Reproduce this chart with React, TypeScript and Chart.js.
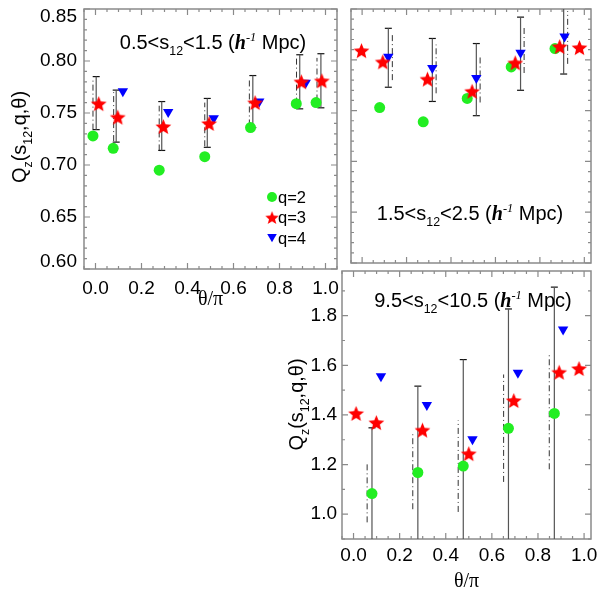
import { useEffect, useRef } from 'react';
import { Chart, registerables } from 'chart.js';
import type { Plugin } from 'chart.js';

Chart.register(...registerables);

const SANS = '"Liberation Sans", Arial, sans-serif';
const SERIF = '"Liberation Serif", "Times New Roman", serif';
Chart.defaults.font.family = SANS;
Chart.defaults.color = '#000';

// ---- values (x = theta/pi, y = Q_z) ----
// panel 1: 0.5 < s12 < 1.5
const p1Q2Theta = [-0.011, 0.077, 0.277, 0.475, 0.674, 0.873, 0.959];
const p1Q2 = [0.728, 0.716, 0.695, 0.708, 0.736, 0.759, 0.760];
const p1Q3Theta = [0.014, 0.097, 0.295, 0.494, 0.694, 0.895, 0.984];
const p1Q3 = [0.759, 0.746, 0.737, 0.740, 0.760, 0.780, 0.781];
const p1Q4Theta = [0.119, 0.316, 0.514, 0.712, 0.914];
const p1Q4 = [0.771, 0.751, 0.745, 0.761, 0.779];
const p1BarTheta = [0.003, 0.090, 0.288, 0.486, 0.684, 0.888, 0.980];
const p1BarLo = [0.734, 0.722, 0.714, 0.717, 0.736, 0.754, 0.755];
const p1BarHi = [0.785, 0.772, 0.761, 0.764, 0.786, 0.806, 0.807];
const p1DashTheta = [-0.011, 0.079, 0.277, 0.475, 0.669, 0.874, 0.963];
const p1DashLo = [0.734, 0.723, 0.714, 0.718, 0.738, 0.759, 0.762];
const p1DashHi = [0.784, 0.770, 0.757, 0.760, 0.782, 0.803, 0.803];

// panel 2: 1.5 < s12 < 2.5
const p2Q2Theta = [0.079, 0.275, 0.473, 0.671, 0.868];
const p2Q2 = [0.753, 0.739, 0.762, 0.793, 0.811];
const p2Q3Theta = [-0.003, 0.093, 0.294, 0.495, 0.689, 0.889, 0.978];
const p2Q3 = [0.809, 0.798, 0.781, 0.769, 0.797, 0.813, 0.812];
const p2Q4Theta = [0.118, 0.316, 0.514, 0.713, 0.911];
const p2Q4 = [0.803, 0.792, 0.782, 0.807, 0.823];
const p2BarTheta = [0.118, 0.316, 0.514, 0.713, 0.907];
const p2BarLo = [0.773, 0.759, 0.745, 0.770, 0.786];
const p2BarHi = [0.831, 0.821, 0.816, 0.842, 0.860];
const p2DashTheta = [0.136, 0.333, 0.531, 0.729, 0.925];
const p2DashLo = [0.780, 0.767, 0.758, 0.787, 0.796];
const p2DashHi = [0.827, 0.815, 0.804, 0.834, 0.848];

// panel 3: 9.5 < s12 < 10.5
const p3Q2Theta = [0.080, 0.279, 0.476, 0.672, 0.871];
const p3Q2 = [1.083, 1.168, 1.194, 1.346, 1.406];
const p3Q3Theta = [0.011, 0.099, 0.299, 0.500, 0.695, 0.892, 0.978];
const p3Q3 = [1.406, 1.369, 1.339, 1.244, 1.458, 1.572, 1.587];
const p3Q4Theta = [0.119, 0.318, 0.516, 0.713, 0.909];
const p3Q4 = [1.556, 1.440, 1.302, 1.570, 1.744];
const p3BarTheta = [0.080, 0.279, 0.476, 0.672, 0.871];
const p3BarLo = [0.82, 0.82, 0.77, 0.86, 0.85];
const p3BarHi = [1.348, 1.516, 1.623, 1.827, 1.915];
const p3DashTheta = [0.059, 0.257, 0.454, 0.651, 0.849];
const p3DashLo = [0.967, 1.020, 1.009, 1.130, 1.181];
const p3DashHi = [1.201, 1.322, 1.378, 1.563, 1.643];

// ---- ticks ----
const xTicks = [0, 0.2, 0.4, 0.6, 0.8, 1.0];
const yTicksTop = [0.6, 0.65, 0.7, 0.75, 0.8, 0.85];
const yTicksBottom = [1.0, 1.2, 1.4, 1.6, 1.8];
const legendLabels = ['q=2', 'q=3', 'q=4'];

const GREEN = '#22ee22';
const RED = '#ff0000';
const BLUE = '#0000ff';
const FRAME = '#8a8a8a';
const TICK_FS = 19;
const TITLE_FS = 20;

type Seg = { t: string; k?: 'sub' | 'sup' | 'h' };
type TextSpec = { segs: Seg[]; x: number; y: number; rot?: number };

const yTitle: Seg[] = [{ t: 'Q' }, { t: 'z', k: 'sub' }, { t: '(s' }, { t: '12', k: 'sub' }, { t: ',q,θ)' }];
const rangeTitle = (lo: string, hi: string): Seg[] => [
  { t: `${lo}<s` },
  { t: '12', k: 'sub' },
  { t: `<${hi} (` },
  { t: 'h', k: 'h' },
  { t: '-1', k: 'sup' },
  { t: ' Mpc)' },
];

function fontFor(k: Seg['k'], size: number) {
  if (k === 'sub') return `${size * 0.62}px ${SANS}`;
  if (k === 'sup') return `italic ${size * 0.62}px ${SERIF}`;
  if (k === 'h') return `bold italic ${size}px ${SERIF}`;
  return `${size}px ${SANS}`;
}

function drawRich(ctx: CanvasRenderingContext2D, spec: TextSpec, size: number) {
  ctx.save();
  ctx.translate(spec.x, spec.y);
  if (spec.rot) ctx.rotate(spec.rot);
  ctx.fillStyle = '#000';
  ctx.textAlign = 'left';
  ctx.textBaseline = 'alphabetic';
  const widths = spec.segs.map((s) => {
    ctx.font = fontFor(s.k, size);
    return ctx.measureText(s.t).width;
  });
  let x = -widths.reduce((a, b) => a + b, 0) / 2;
  const base = size * 0.35;
  spec.segs.forEach((s, i) => {
    ctx.font = fontFor(s.k, size);
    const dy = s.k === 'sub' ? size * 0.28 : s.k === 'sup' ? -size * 0.42 : 0;
    ctx.fillText(s.t, x, base + dy);
    x += widths[i];
  });
  ctx.restore();
}

function makeStar(outer: number) {
  const size = Math.ceil(outer * 2 + 2);
  const c = document.createElement('canvas');
  c.width = size;
  c.height = size;
  const g = c.getContext('2d')!;
  g.translate(size / 2, size / 2 + outer * 0.095);
  g.beginPath();
  for (let i = 0; i < 10; i++) {
    const r = i % 2 ? outer * 0.44 : outer;
    const a = -Math.PI / 2 + (i * Math.PI) / 5;
    g.lineTo(r * Math.cos(a), r * Math.sin(a));
  }
  g.closePath();
  g.fillStyle = RED;
  g.fill();
  return c;
}

const pts = (xs: number[], ys: number[]) => xs.map((x, i) => ({ x, y: ys[i] }));
const segs = (xs: number[], lo: number[], hi: number[]) =>
  xs.flatMap((x, i) => [{ x, y: lo[i] }, { x, y: hi[i] }, { x, y: null as any }]);
const ends = (xs: number[], lo: number[], hi: number[]) =>
  xs.flatMap((x, i) => [{ x, y: lo[i] }, { x, y: hi[i] }]);

function stepValues(min: number, max: number, step: number) {
  const out: number[] = [];
  for (let k = Math.ceil(min / step - 1e-6); k * step <= max + 1e-9; k++) out.push(k * step);
  return out;
}

interface PanelSpec {
  pos: { left: number; top: number; width: number; height: number };
  pad: { top: number; right: number; bottom: number };
  yAxisW: number;
  xAxisH: number;
  xRange: [number, number];
  yRange: [number, number];
  yTicks: number[];
  yDigits: number;
  yMajor: number;
  yMinor: number;
  labels: boolean;
  xLabelPad: number;
  yLabelPad: number;
  xTitlePad: number;
  q2: [number[], number[]];
  q3: [number[], number[]];
  q4: [number[], number[]];
  bar: [number[], number[], number[]];
  dash: [number[], number[], number[]];
  texts: TextSpec[];
  legend?: { x: number; y: number };
}

function Panel({ spec }: { spec: PanelSpec }) {
  const canvasRef = useRef<HTMLCanvasElement>(null);

  useEffect(() => {
    if (!canvasRef.current) return;
    const star = makeStar(8.3);
    const [xMin, xMax] = spec.xRange;
    const [yMin, yMax] = spec.yRange;

    const decor: Plugin<'line'> = {
      id: 'decor',
      beforeDatasetsDraw(chart) {
        const { ctx, chartArea: a } = chart;
        const xs = chart.scales.x;
        const ys = chart.scales.y;
        const isMajor = (v: number, step: number) => Math.abs(v / step - Math.round(v / step)) < 1e-6;
        ctx.save();
        ctx.strokeStyle = FRAME;
        ctx.lineWidth = 1.2;
        ctx.beginPath();
        for (const v of stepValues(xMin, xMax, 0.05)) {
          const len = isMajor(v, 0.2) ? 6 : 3;
          const px = xs.getPixelForValue(v);
          ctx.moveTo(px, a.bottom);
          ctx.lineTo(px, a.bottom - len);
          ctx.moveTo(px, a.top);
          ctx.lineTo(px, a.top + len);
        }
        for (const v of stepValues(yMin, yMax, spec.yMinor)) {
          const len = isMajor(v, spec.yMajor) ? 6 : 3;
          const py = ys.getPixelForValue(v);
          ctx.moveTo(a.left, py);
          ctx.lineTo(a.left + len, py);
          ctx.moveTo(a.right, py);
          ctx.lineTo(a.right - len, py);
        }
        ctx.stroke();
        ctx.lineWidth = 1.5;
        ctx.strokeRect(a.left, a.top, a.right - a.left, a.bottom - a.top);
        ctx.restore();
      },
      afterDatasetsDraw(chart) {
        const { ctx } = chart;
        spec.texts.forEach((t) => drawRich(ctx, t, TITLE_FS));
        if (spec.legend) {
          const { x, y } = spec.legend;
          const step = 20.5;
          ctx.save();
          ctx.fillStyle = GREEN;
          ctx.beginPath();
          ctx.arc(x, y, 5, 0, Math.PI * 2);
          ctx.fill();
          const s = star.width * 0.85;
          ctx.drawImage(star, x - s / 2, y + step - s / 2, s, s);
          const ty = y + 2 * step;
          const r = 5.5;
          ctx.fillStyle = BLUE;
          ctx.beginPath();
          ctx.moveTo(x, ty + r * 0.75);
          ctx.lineTo(x - r * 0.87, ty - r * 0.75);
          ctx.lineTo(x + r * 0.87, ty - r * 0.75);
          ctx.closePath();
          ctx.fill();
          ctx.fillStyle = '#000';
          ctx.font = `16.5px ${SANS}`;
          ctx.textBaseline = 'middle';
          ctx.textAlign = 'left';
          legendLabels.forEach((l, i) => ctx.fillText(l, x + 6, y + i * step + 1));
          ctx.restore();
        }
      },
    };

    const chart = new Chart(canvasRef.current, {
      type: 'line',
      data: {
        datasets: [
          {
            label: 'q=3',
            data: pts(...spec.q3),
            showLine: false,
            pointStyle: star,
            pointRadius: 8,
            order: 0,
          },
          {
            label: 'q=4',
            data: pts(...spec.q4),
            showLine: false,
            pointStyle: 'triangle',
            rotation: 180,
            pointRadius: 6,
            pointBackgroundColor: BLUE,
            pointBorderWidth: 0,
            order: 1,
          },
          {
            label: 'q=2',
            data: pts(...spec.q2),
            showLine: false,
            pointStyle: 'circle',
            pointRadius: 5.5,
            pointBackgroundColor: GREEN,
            pointBorderWidth: 0,
            order: 2,
          },
          {
            label: 'error',
            data: segs(...spec.bar),
            showLine: true,
            spanGaps: false,
            pointRadius: 0,
            borderColor: '#555',
            borderWidth: 1.2,
            order: 3,
          },
          {
            label: 'caps',
            data: ends(...spec.bar),
            showLine: false,
            pointStyle: 'line',
            pointRadius: 3.5,
            pointBorderColor: '#111',
            pointBorderWidth: 1.2,
            order: 3,
          },
          {
            label: 'error q2',
            data: segs(...spec.dash),
            showLine: true,
            spanGaps: false,
            pointRadius: 0,
            borderColor: '#333',
            borderWidth: 1,
            borderDash: [6, 3, 1, 3],
            order: 4,
          },
        ],
      },
      options: {
        responsive: false,
        maintainAspectRatio: false,
        animation: false,
        events: [],
        layout: { padding: { left: 0, top: spec.pad.top, right: spec.pad.right, bottom: spec.pad.bottom } },
        plugins: { legend: { display: false }, tooltip: { enabled: false } },
        scales: {
          x: {
            type: 'linear',
            min: xMin,
            max: xMax,
            grid: { display: false, drawTicks: false },
            border: { display: false },
            afterBuildTicks: (s: any) => {
              s.ticks = xTicks.map((v) => ({ value: v }));
            },
            afterFit: (s: any) => {
              s.height = spec.xAxisH;
              s.paddingLeft = 0;
              s.paddingRight = 0;
            },
            ticks: {
              display: spec.labels,
              padding: spec.xLabelPad,
              maxRotation: 0,
              autoSkip: false,
              color: '#000',
              font: { family: SANS, size: TICK_FS, lineHeight: 1 },
              callback: (v: any) => Number(v).toFixed(1),
            },
            title: {
              display: spec.labels,
              text: 'θ/π',
              color: '#000',
              font: { family: SERIF, size: 20, lineHeight: 1.2 },
              padding: { top: 0, bottom: spec.xTitlePad },
            },
          },
          y: {
            type: 'linear',
            min: yMin,
            max: yMax,
            grid: { display: false, drawTicks: false },
            border: { display: false },
            afterBuildTicks: (s: any) => {
              s.ticks = spec.yTicks.map((v) => ({ value: v }));
            },
            afterFit: (s: any) => {
              s.width = spec.yAxisW;
              s.paddingTop = 0;
              s.paddingBottom = 0;
            },
            ticks: {
              display: spec.labels,
              padding: spec.yLabelPad,
              color: '#000',
              font: { family: SANS, size: TICK_FS, lineHeight: 0.8 },
              callback: (v: any) => {
                const n = Number(v);
                const s = n.toFixed(spec.yDigits);
                if (Math.abs(n - yMax) < 1e-9) return ['', s];
                if (Math.abs(n - yMin) < 1e-9) return [s, ''];
                return s;
              },
            },
          },
        },
      },
      plugins: [decor],
    });

    return () => {
      chart.destroy();
    };
  }, [spec]);

  const { left, top, width, height } = spec.pos;
  return (
    <canvas
      ref={canvasRef}
      width={width}
      height={height}
      style={{ position: 'absolute', left, top, width, height }}
    />
  );
}

const panels: PanelSpec[] = [
  {
    pos: { left: 0, top: 0, width: 346, height: 312 },
    pad: { top: 5, right: 4, bottom: 0 },
    yAxisW: 84,
    xAxisH: 43,
    xRange: [-0.05, 1.05],
    yRange: [0.6, 0.85],
    yTicks: yTicksTop,
    yDigits: 2,
    yMajor: 0.05,
    yMinor: 0.01,
    labels: true,
    xLabelPad: 10,
    yLabelPad: 7,
    xTitlePad: 0,
    q2: [p1Q2Theta, p1Q2],
    q3: [p1Q3Theta, p1Q3],
    q4: [p1Q4Theta, p1Q4],
    bar: [p1BarTheta, p1BarLo, p1BarHi],
    dash: [p1DashTheta, p1DashLo, p1DashHi],
    texts: [
      { segs: rangeTitle('0.5', '1.5'), x: 213, y: 42 },
      { segs: yTitle, x: 19, y: 137, rot: -Math.PI / 2 },
    ],
    legend: { x: 272, y: 197 },
  },
  {
    pos: { left: 342, top: 0, width: 258, height: 272 },
    pad: { top: 5, right: 7, bottom: 3 },
    yAxisW: 0,
    xAxisH: 0,
    xRange: [-0.05, 1.03],
    yRange: [0.6, 0.85],
    yTicks: yTicksTop,
    yDigits: 2,
    yMajor: 0.05,
    yMinor: 0.01,
    labels: false,
    xLabelPad: 0,
    yLabelPad: 0,
    xTitlePad: 0,
    q2: [p2Q2Theta, p2Q2],
    q3: [p2Q3Theta, p2Q3],
    q4: [p2Q4Theta, p2Q4],
    bar: [p2BarTheta, p2BarLo, p2BarHi],
    dash: [p2DashTheta, p2DashLo, p2DashHi],
    texts: [{ segs: rangeTitle('1.5', '2.5'), x: 128, y: 213 }],
  },
  {
    pos: { left: 280, top: 262, width: 320, height: 338 },
    pad: { top: 8, right: 7, bottom: 0 },
    yAxisW: 62,
    xAxisH: 61,
    xRange: [-0.05, 1.03],
    yRange: [0.9, 1.98],
    yTicks: yTicksBottom,
    yDigits: 1,
    yMajor: 0.2,
    yMinor: 0.1,
    labels: true,
    xLabelPad: 7.5,
    yLabelPad: 5,
    xTitlePad: 6.5,
    q2: [p3Q2Theta, p3Q2],
    q3: [p3Q3Theta, p3Q3],
    q4: [p3Q4Theta, p3Q4],
    bar: [p3BarTheta, p3BarLo, p3BarHi],
    dash: [p3DashTheta, p3DashLo, p3DashHi],
    texts: [
      { segs: rangeTitle('9.5', '10.5'), x: 193, y: 38 },
      { segs: yTitle, x: 16, y: 142.5, rot: -Math.PI / 2 },
    ],
  },
];

export default function App() {
  return (
    <div style={{ position: 'absolute', left: 0, top: 0, width: 600, height: 600, background: '#fff' }}>
      {panels.map((p, i) => (
        <Panel key={i} spec={p} />
      ))}
    </div>
  );
}
